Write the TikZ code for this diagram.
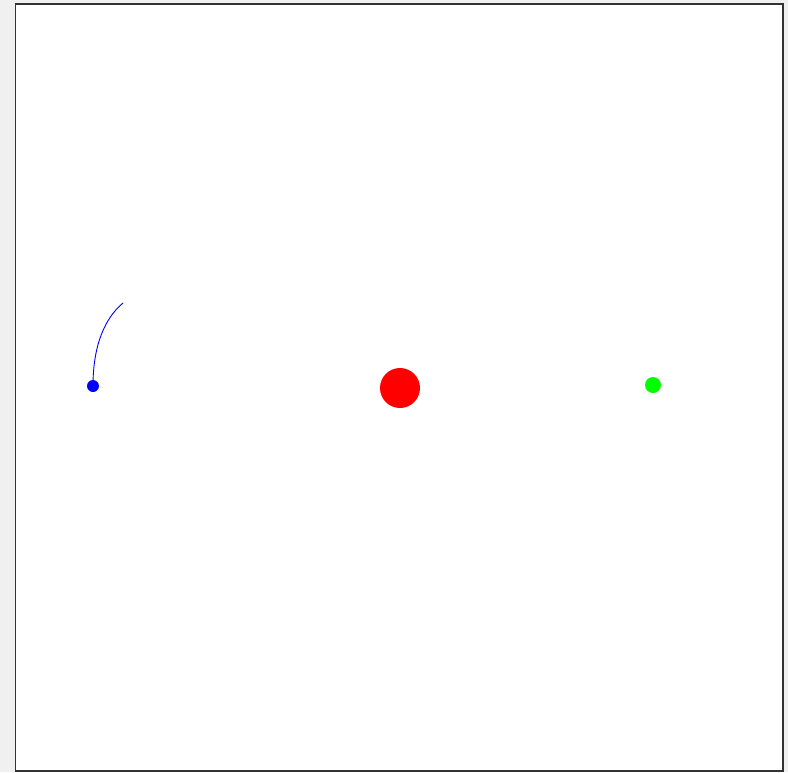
\documentclass[tikz,border=0pt]{standalone}
\begin{document}
\begin{tikzpicture}[x=1pt,y=-1pt,
  dot/.style={circle,inner sep=0pt,minimum size=#1,draw=none}]
\useasboundingbox (0,0) rectangle (788,772);
\fill[black!6] (0,0) rectangle (788,772);
\draw[fill=white,draw=black!80,line width=1.6pt] (15.5,4) rectangle (783,771);
\node[dot=40pt,fill=red] (sun) at (400,388) {};
\node[dot=16pt,fill=green] (g) at (653,385) {};
\node[dot=12pt,fill=blue] (b) at (93,386) {};
\coordinate (tail) at (123,303);
\draw[blue,line width=0.9pt] (b.center) .. controls (93,345) and (105,318) .. (tail);
\end{tikzpicture}
\end{document}
